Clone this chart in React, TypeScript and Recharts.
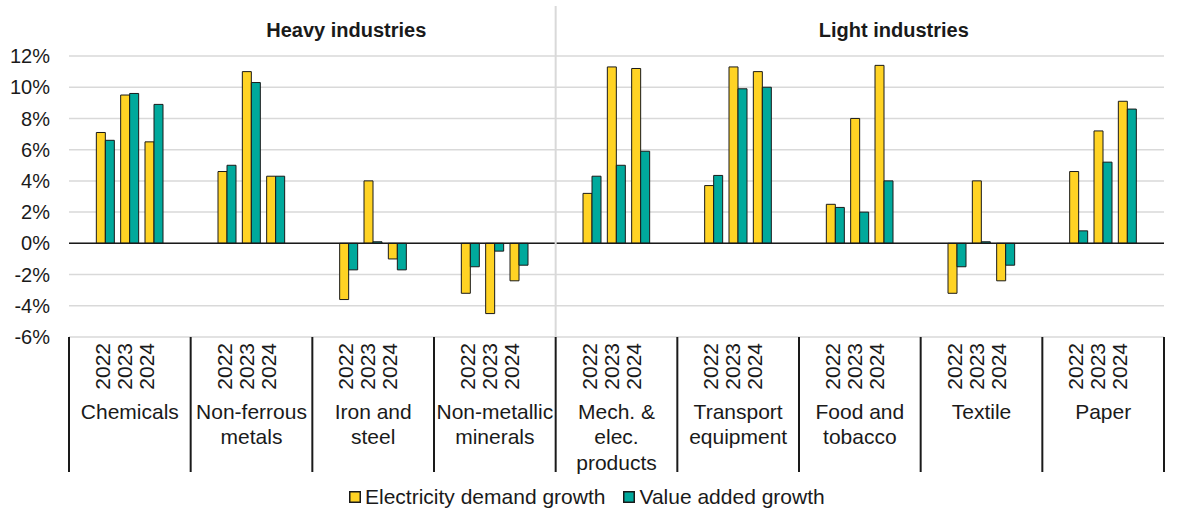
import * as React from "react";
import {
  BarChart,
  Bar,
  XAxis,
  YAxis,
  CartesianGrid,
  ReferenceLine,
  Legend,
} from "recharts";

// data
const INDUSTRIES = [
  "Chemicals",
  "Non-ferrous metals",
  "Iron and steel",
  "Non-metallic minerals",
  "Mech. & elec. products",
  "Transport equipment",
  "Food and tobacco",
  "Textile",
  "Paper",
];

const INDUSTRY_LINES = [
  ["Chemicals"],
  ["Non-ferrous", "metals"],
  ["Iron and", "steel"],
  ["Non-metallic", "minerals"],
  ["Mech. &", "elec.", "products"],
  ["Transport", "equipment"],
  ["Food and", "tobacco"],
  ["Textile"],
  ["Paper"],
];

const GROUPS = [
  { title: "Heavy industries", first: 0, count: 4 },
  { title: "Light industries", first: 4, count: 5 },
];

const YEARS = ["2022", "2023", "2024"];

const ELECTRICITY = [
  [7.1, 9.5, 6.5],
  [4.6, 11.0, 4.3],
  [-3.6, 4.0, -1.0],
  [-3.2, -4.5, -2.4],
  [3.2, 11.3, 11.2],
  [3.7, 11.3, 11.0],
  [2.5, 8.0, 11.4],
  [-3.2, 4.0, -2.4],
  [4.6, 7.2, 9.1],
];

const VALUE_ADDED = [
  [6.6, 9.6, 8.9],
  [5.0, 10.3, 4.3],
  [-1.7, 0.1, -1.7],
  [-1.5, -0.5, -1.4],
  [4.3, 5.0, 5.9],
  [4.35, 9.9, 10.0],
  [2.3, 2.0, 4.0],
  [-1.5, 0.1, -1.4],
  [0.8, 5.2, 8.6],
];

const Y_TICKS = [-6, -4, -2, 0, 2, 4, 6, 8, 10, 12];

const SERIES = [
  { key: "electricity", name: "Electricity demand growth", color: "#FFD324" },
  { key: "valueAdded", name: "Value added growth", color: "#00A99C" },
];

// layout
const W = 1183;
const H = 514;
const MARGIN = { top: 56, right: 19, left: 0, bottom: 0 };
const Y_AXIS_W = 69;
const LEGEND_H = 34;
const PLOT_BOTTOM = 337;
const X_AXIS_H = H - PLOT_BOTTOM - LEGEND_H;
const PLOT_LEFT = MARGIN.left + Y_AXIS_W;
const PLOT_W = W - MARGIN.right - PLOT_LEFT;
const BAND = PLOT_W / INDUSTRIES.length;
const SLOT = BAND / 5;
const TEXT = "#1a1a1a";
const FONT = "'Liberation Sans', Arial, sans-serif";

// each industry gets 5 slots: blank, 2022, 2023, 2024, blank
type Row = {
  key: string;
  industry: number;
  slot: number;
  year: string | null;
  electricity: number | null;
  valueAdded: number | null;
};

const rows: Row[] = [];
INDUSTRIES.forEach((_, i) => {
  for (let s = 0; s < 5; s++) {
    const yi = s - 1;
    const isYear = yi >= 0 && yi < YEARS.length;
    rows.push({
      key: `${i}-${s}`,
      industry: i,
      slot: s,
      year: isYear ? YEARS[yi] : null,
      electricity: isYear ? ELECTRICITY[i][yi] : null,
      valueAdded: isYear ? VALUE_ADDED[i][yi] : null,
    });
  }
});

function CategoryTick(props: any) {
  const { x, y, index } = props;
  const row = rows[index];
  if (!row) return null;
  const parts: React.ReactNode[] = [];

  if (row.year) {
    // year labels sit a little tighter than the bars, like the original
    const lx = x - (row.slot - 2) * (SLOT - 22) - 5.5;
    const ly = y + 6;
    parts.push(
      <text
        key="yr"
        x={lx}
        y={ly}
        transform={`rotate(-90, ${lx}, ${ly})`}
        textAnchor="end"
        dominantBaseline="central"
        fontSize={21}
        fill={TEXT}
      >
        {row.year}
      </text>
    );
  }

  if (row.slot === 2) {
    INDUSTRY_LINES[row.industry].forEach((line, li) => {
      parts.push(
        <text
          key={`l${li}`}
          x={x}
          y={y + 74 + li * 25.5}
          textAnchor="middle"
          dominantBaseline="central"
          fontSize={21}
          fill={TEXT}
        >
          {line}
        </text>
      );
    });
  }

  if (row.slot === 0) {
    const bx = x - SLOT / 2;
    parts.push(
      <line key="sep" x1={bx} x2={bx} y1={y} y2={y + 135} stroke={TEXT} strokeWidth={2} />
    );
    const group = GROUPS.find((g) => g.first === row.industry);
    if (group) {
      if (group.first > 0) {
        parts.push(
          <line key="div" x1={bx} x2={bx} y1={6} y2={y} stroke="#D9D9D9" strokeWidth={2} />
        );
      }
      const gx = bx + (group.count * BAND) / 2 + 34;
      parts.push(
        <text
          key="title"
          x={gx}
          y={37}
          textAnchor="middle"
          fontSize={20}
          fontWeight="bold"
          fill={TEXT}
        >
          {group.title}
        </text>
      );
    }
  }

  if (row.slot === 4 && row.industry === INDUSTRIES.length - 1) {
    const bx = x + SLOT / 2;
    parts.push(
      <line key="end" x1={bx} x2={bx} y1={y} y2={y + 135} stroke={TEXT} strokeWidth={2} />
    );
  }

  return <g>{parts}</g>;
}

function LegendContent() {
  return (
    <div
      style={{
        height: LEGEND_H,
        display: "flex",
        justifyContent: "flex-start",
        alignItems: "center",
        paddingLeft: 349,
        fontFamily: FONT,
        fontSize: 21,
        color: TEXT,
        whiteSpace: "nowrap",
      }}
    >
      {SERIES.map((s, i) => (
        <div
          key={s.key}
          style={{ display: "flex", alignItems: "center", marginLeft: i > 0 ? 18 : 0 }}
        >
          <svg width={12} height={12} style={{ marginRight: 4, flexShrink: 0 }}>
            <rect x={0.75} y={0.75} width={10.5} height={10.5} fill={s.color} stroke={TEXT} strokeWidth={1.5} />
          </svg>
          <span>{s.name}</span>
        </div>
      ))}
    </div>
  );
}

export default function App() {
  return (
    <div
      style={{
        position: "absolute",
        left: 0,
        top: 0,
        width: W,
        height: H,
        background: "#fff",
        fontFamily: FONT,
      }}
    >
      <BarChart width={W} height={H} data={rows} margin={MARGIN} barGap={0}>
        <CartesianGrid vertical={false} stroke="#D9D9D9" strokeWidth={1.5} />
        <XAxis
          dataKey="key"
          interval={0}
          height={X_AXIS_H}
          axisLine={false}
          tickLine={false}
          tickSize={0}
          tickMargin={0}
          tick={<CategoryTick />}
        />
        <YAxis
          width={Y_AXIS_W}
          domain={[-6, 12]}
          ticks={Y_TICKS}
          interval={0}
          axisLine={false}
          tickLine={false}
          tickSize={0}
          tickMargin={19}
          tickFormatter={(v: number) => `${v}%`}
          tick={{ fill: TEXT, fontSize: 20 }}
        />
        <ReferenceLine y={0} stroke={TEXT} strokeWidth={1.5} />
        {SERIES.map((s) => (
          <Bar
            key={s.key}
            dataKey={s.key}
            name={s.name}
            fill={s.color}
            stroke={TEXT}
            strokeWidth={1}
            barSize={9}
            isAnimationActive={false}
          />
        ))}
        <Legend
          verticalAlign="bottom"
          align="left"
          height={LEGEND_H}
          wrapperStyle={{ left: 0, width: W }}
          content={<LegendContent />}
        />
      </BarChart>
    </div>
  );
}
